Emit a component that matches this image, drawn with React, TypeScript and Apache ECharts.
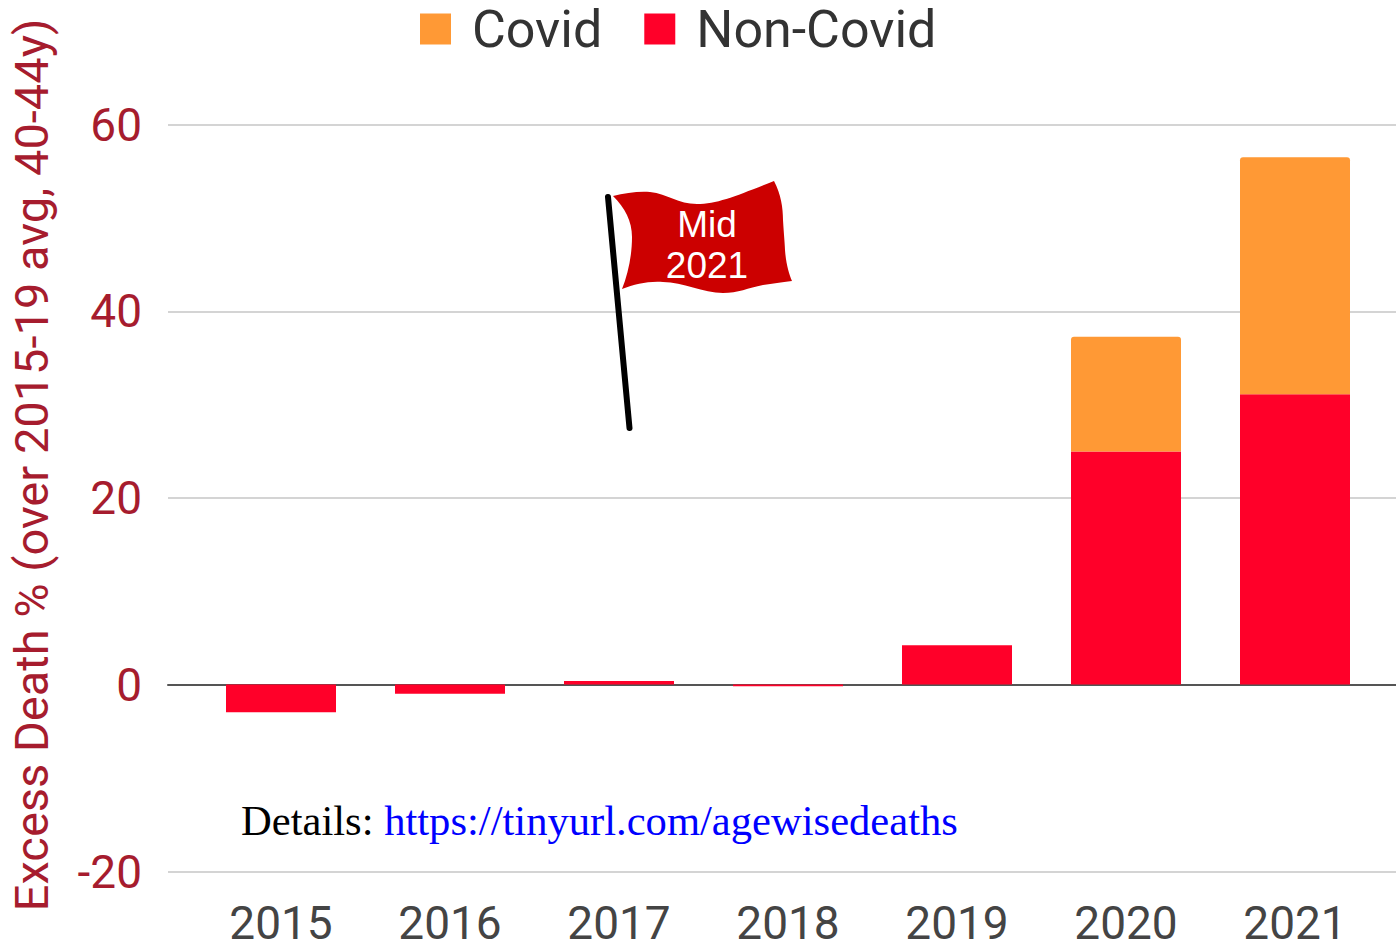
import React, { useEffect, useRef } from "react";
import * as echarts from "echarts";

const years = ["2015", "2016", "2017", "2018", "2019", "2020", "2021"];
const nonCovid = [-3.0, -1.0, 0.35, -0.2, 4.2, 24.95, 31.1];
const covid = [0, 0, 0, 0, 0, 12.3, 25.4];
const yTicks = { min: -20, max: 60, interval: 20 };
const yTitle = "Excess Death % (over 2015-19 avg, 40-44y)";
const flagLines = "Mid\n2021";

const flagPath =
  "M0 0 C12 -3 26 -5 37 -4 C55 -2 65 8 84 8 C105 8 125 -1 161 -15 C168 -2 170 12 170 24 C171 40 172 50 172 54 C173 68 176 78 179 85 C168 86 160 88 150 89 C135 92 125 97 110 97 C90 97 70 86 50 86 C35 85 22 88 9 93 C15 78 19 60 19 41 C19 25 12 12 0 0 Z";
echarts.graphic.registerShape("flagShape", echarts.graphic.extendPath(flagPath, {}) as any);

export default function App() {
  const ref = useRef<HTMLDivElement>(null);
  useEffect(() => {
    const chart = echarts.init(ref.current!, null, { renderer: "svg" });
    const labelColor = "#444444";
    chart.setOption({
      animation: false,
      backgroundColor: "#ffffff",
      legend: {
        top: 3,
        left: 420,
        padding: 0,
        itemWidth: 31,
        itemHeight: 31,
        itemGap: 42,
        icon: "rect",
        selectedMode: false,
        data: ["Covid", "Non-Covid"],
        textStyle: { fontFamily: "Roboto", fontSize: 52, color: "#333333", padding: [0, 0, 0, 16] },
      },
      grid: [
        { left: 168, right: 0, top: 124.5, height: 747 },
        { left: 196.5, right: 16.5, top: 124.5, height: 747 },
      ],
      xAxis: [
        {
          gridIndex: 0,
          type: "category",
          data: years,
          axisLabel: { show: false },
          axisTick: { show: false },
          axisLine: { show: true, onZero: true, lineStyle: { color: "#555555", width: 2 } },
        },
        {
          gridIndex: 1,
          type: "category",
          data: years,
          position: "bottom",
          axisLine: { show: false, onZero: false },
          axisTick: { show: false },
          axisLabel: { fontFamily: "Roboto", fontSize: 46, lineHeight: 40, color: labelColor, margin: 32, interval: 0 },
        },
      ],
      yAxis: [
        {
          gridIndex: 0,
          type: "value",
          ...yTicks,
          axisLine: { show: false },
          axisTick: { show: false },
          splitLine: { lineStyle: { color: "#d4d4d4", width: 2 } },
          axisLabel: { fontFamily: "Roboto", fontSize: 46, color: "#a61c2e", margin: 26 },
          name: yTitle,
          nameLocation: "middle",
          nameRotate: 90,
          nameGap: 113,
          nameTextStyle: { fontFamily: "Roboto", fontSize: 47, color: "#a61c2e", padding: [0, 0, 0, 66] },
        },
        {
          gridIndex: 1,
          type: "value",
          ...yTicks,
          axisLine: { show: false },
          axisTick: { show: false },
          axisLabel: { show: false },
          splitLine: { show: false },
        },
      ],
      series: [
        {
          name: "Non-Covid",
          type: "bar",
          xAxisIndex: 1,
          yAxisIndex: 1,
          stack: "a",
          barWidth: 110,
          data: nonCovid,
          itemStyle: { color: "#ff0029", opacity: 1 },
          z: 2,
        },
        {
          name: "Covid",
          type: "bar",
          xAxisIndex: 1,
          yAxisIndex: 1,
          stack: "a",
          barWidth: 110,
          data: covid,
          itemStyle: { color: "#ff9935", borderRadius: [3, 3, 0, 0] },
          z: 2,
        },
      ],
      graphic: [
        {
          type: "text",
          left: 241,
          top: 799,
          style: {
            text: "Details: {u|https://tinyurl.com/agewisedeaths}",
            fontFamily: "Liberation Serif",
            fontSize: 42.6,
            fill: "#000000",
            rich: { u: { fill: "#0000ff", fontFamily: "Liberation Serif", fontSize: 42.6 } },
          },
        },
        {
          type: "line",
          shape: { x1: 608, y1: 197, x2: 629.5, y2: 428 },
          style: { stroke: "#000000", lineWidth: 6, lineCap: "round" },
          z: 10,
        },
        {
          type: "flagShape",
          x: 613,
          y: 196,
          style: { fill: "#cc0000" },
          z: 10,
        },
        {
          type: "text",
          x: 707,
          y: 204,
          style: {
            text: flagLines,
            fontFamily: "Liberation Sans",
            fontSize: 37,
            lineHeight: 41,
            fill: "#ffffff",
            align: "center",
          },
          z: 11,
        },
      ],
    });
    return () => chart.dispose();
  }, []);
  return <div ref={ref} style={{ position: "fixed", left: 0, top: 0, width: 1396, height: 946 }} />;
}
